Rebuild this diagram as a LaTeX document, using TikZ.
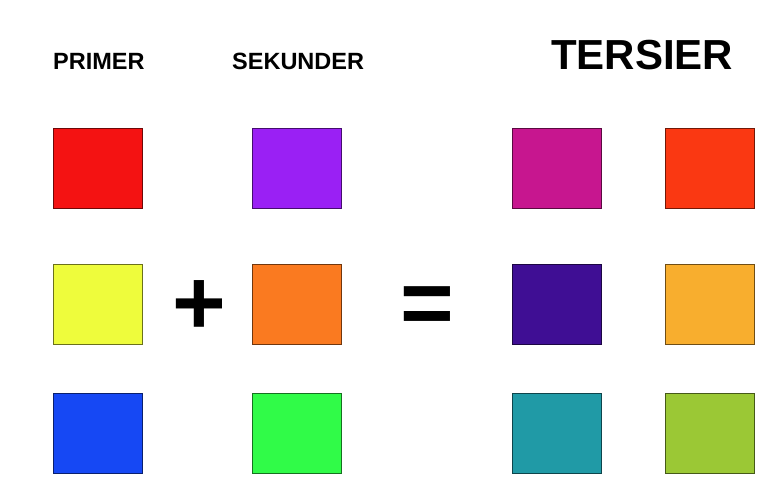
\documentclass[tikz,border=0pt]{standalone}
\usepackage{fontspec}
\setmainfont{Liberation Sans}
\definecolor{cRed}{HTML}{F41212}
\definecolor{cPurple}{HTML}{9A20F4}
\definecolor{cMagenta}{HTML}{C7168F}
\definecolor{cRedOrange}{HTML}{FA3812}
\definecolor{cYellow}{HTML}{EEFC3C}
\definecolor{cOrange}{HTML}{FA7A20}
\definecolor{cIndigo}{HTML}{3F0E94}
\definecolor{cLightOrange}{HTML}{F8AE2E}
\definecolor{cBlue}{HTML}{1648F4}
\definecolor{cGreen}{HTML}{30FB48}
\definecolor{cTeal}{HTML}{209AA6}
\definecolor{cLime}{HTML}{9BC835}
\tikzset{
  swatch/.style={rectangle, fill=#1, draw=#1!45!black, line width=0.9pt,
    minimum width=89pt, minimum height=80pt, inner sep=0pt, anchor=north west},
  header/.style={font=\bfseries\fontsize{23.5}{28}\selectfont, inner sep=0pt, anchor=base west},
  bigheader/.style={font=\bfseries\fontsize{42}{50}\selectfont, inner sep=0pt, anchor=base west},
  operator/.style={font=\bfseries\fontsize{92}{100}\selectfont, inner sep=0pt, anchor=base}
}
\begin{document}
\begin{tikzpicture}[x=1pt,y=-1pt]
\useasboundingbox[fill=white] (0,0) rectangle (765,486);
% headers
\node[header] (primer) at (53,70) {PRIMER};
\node[header] (sekunder) at (232,70) {SEKUNDER};
\node[bigheader] (tersier) at (551,70) {TERSIER};
% primary
\node[swatch=cRed] (p1) at (53,128.5) {};
\node[swatch=cYellow] (p2) at (53,263.5) {};
\node[swatch=cBlue] (p3) at (53,393) {};
% secondary
\node[swatch=cPurple] (s1) at (251.5,128.5) {};
\node[swatch=cOrange] (s2) at (251.5,263.5) {};
\node[swatch=cGreen] (s3) at (251.5,393) {};
% tertiary
\node[swatch=cMagenta] (t1) at (512,128.5) {};
\node[swatch=cIndigo] (t2) at (512,263.5) {};
\node[swatch=cTeal] (t3) at (512,393) {};
\node[swatch=cRedOrange] (t4) at (664.5,128.5) {};
\node[swatch=cLightOrange] (t5) at (664.5,263.5) {};
\node[swatch=cLime] (t6) at (664.5,393) {};
% operators
\node[operator] (plus) at (199,334) {+};
\node[operator] (eq) at (427.5,334) {=};
\end{tikzpicture}
\end{document}
